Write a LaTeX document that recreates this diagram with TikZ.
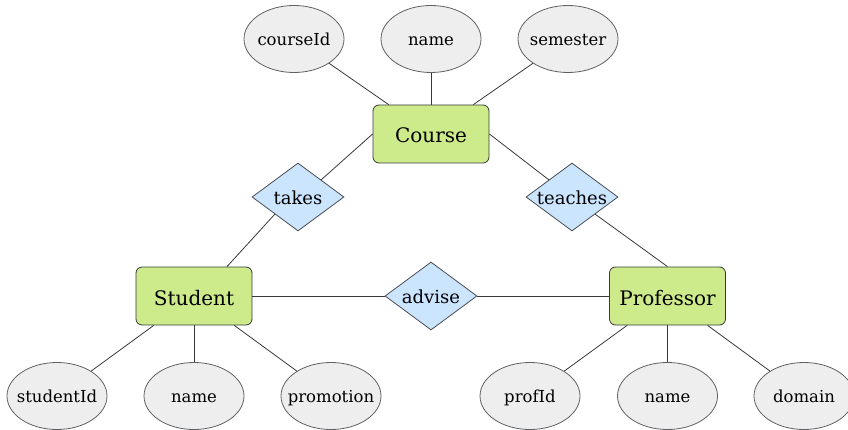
\documentclass[tikz,border=0pt]{standalone}
\usepackage{fontspec}
\setmainfont{DejaVu Serif}
\usetikzlibrary{shapes.geometric,calc}
\definecolor{entfill}{HTML}{CDEB8B}
\definecolor{relfill}{HTML}{CCE5FF}
\definecolor{attrfill}{HTML}{EEEEEE}
\definecolor{edge}{HTML}{36393D}
% zero-width label so that a shape keeps its fixed size
\newcommand\fixw[1]{\makebox[0pt]{#1}}
\tikzset{
  entity/.style={draw=edge, line width=0.8pt, fill=entfill, rounded corners=6pt,
    minimum width=116pt, minimum height=58pt, inner sep=0pt,
    font=\fontsize{20}{24}\selectfont, text height=18pt, text depth=0pt},
  relation/.style={draw=edge!90, line width=0.8pt, fill=relfill, diamond,
    minimum width=92pt, minimum height=68pt, inner sep=0pt,
    font=\fontsize{18}{22}\selectfont, text height=14.5pt, text depth=0pt},
  attribute/.style={draw=edge!80, line width=0.8pt, fill=attrfill, ellipse,
    minimum width=100pt, minimum height=67pt, inner sep=0pt,
    font=\fontsize{16.5}{20}\selectfont, text height=13.5pt, text depth=0pt},
  link/.style={draw=edge, line width=0.8pt}
}
\begin{document}
\begin{tikzpicture}[x=1pt,y=-1pt]
  \useasboundingbox (0,0) rectangle (848,430);
  % entities
  \node[entity] (course) at (431,134) {Course};
  \node[entity] (student) at (194,296) {Student};
  \node[entity] (prof) at (667.5,296) {Professor};
  % relationships
  \node[relation] (takes) at (298,197) {\fixw{takes}};
  \node[relation] (teaches) at (572,197) {\fixw{teaches}};
  \node[relation] (advise) at (431,296) {\fixw{advise}};
  % attributes
  \node[attribute] (cid) at (294,39) {\fixw{courseId}};
  \node[attribute] (cname) at (431,39) {\fixw{name}};
  \node[attribute] (csem) at (568,39) {\fixw{semester}};
  \node[attribute] (sid) at (57,396) {\fixw{studentId}};
  \node[attribute] (sname) at (194,396) {\fixw{name}};
  \node[attribute] (sprom) at (331,396) {\fixw{promotion}};
  \node[attribute] (pid) at (530,396) {\fixw{profId}};
  \node[attribute] (pname) at (667.5,396) {\fixw{name}};
  \node[attribute] (pdom) at (804,396) {\fixw{domain}};
  % attribute links
  \draw[link] (cid) -- (course);
  \draw[link] (cname) -- (course);
  \draw[link] (csem) -- (course);
  \draw[link] (sid) -- (student);
  \draw[link] (sname) -- (student);
  \draw[link] (sprom) -- (student);
  \draw[link] (pid) -- (prof);
  \draw[link] (pname) -- (prof);
  \draw[link] (pdom) -- (prof);
  % relationship links
  \draw[link] (course.west) -- (takes.north east);
  \draw[link] (takes.south west) -- ([xshift=33pt]student.north);
  \draw[link] (course.east) -- (teaches.north west);
  \draw[link] (teaches.south east) -- (prof.north);
  \draw[link] (student.east) -- (advise.west);
  \draw[link] (advise.east) -- (prof.west);
\end{tikzpicture}
\end{document}
